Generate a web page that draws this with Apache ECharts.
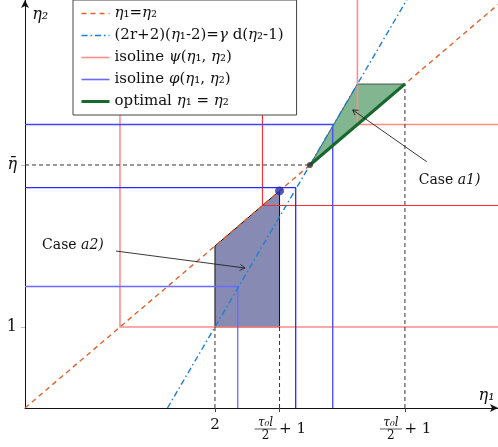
<!DOCTYPE html>
<html><head><meta charset="utf-8">
<script src="https://cdn.jsdelivr.net/npm/echarts@6/dist/echarts.min.js"></script>
<style>html,body{margin:0;padding:0;background:#fff}#c{width:498px;height:447px}</style>
</head><body><div id="c"></div>
<script>
// ---- data (in η units) ----
const X_MAX = 4.98, Y_MAX = 5.037;
const diagLine = [[0, 0], [4.98, 4.98]];
const constraintLine = [[1.5, 0], [4.02, 5.04]];
const psiCorners = [1, 2.5, 3.5];
const phiCorners = [[2.24, 1.5], [2.85, 2.72], [3.24, 3.5]];
const caseA2 = [[2, 1], [2.68, 1], [2.68, 2.68], [2, 2]];
const caseA1 = [[3, 3], [3.5, 4], [4, 4]];
const optimal = [[3, 3], [4, 4]];
const dotA2 = [[2.68, 2.68]];
const dotBar = [[3, 3]];
const dashedGuides = [[[0, 3], [3, 3]], [[2, 0], [2, 1]], [[2.68, 0], [2.68, 1]], [[4, 0], [4, 4]]];
const xTicks = [2, 2.68, 4];
const xTickKinds = ['2', 'frac', 'frac'];
const yTicks = [1, 3];
const yTickLabels = ['1', '{i|η̄}'];
const caseLabels = ['a1)', 'a2)'];
const caseLabelAt = [[4.47, 2.815], [0.505, 2.012]];
const caseArrows = [[[4.23, 3.04], [3.45, 3.68]], [[0.958, 1.938], [2.316, 1.728]]];
const axisNames = ['η₁', 'η₂'];
const axisNameAt = [[4.86, 0.15], [0.16, 4.85]];
const names = ['η₁=η₂', '(2r+2)(η₁-2)=γ d(η₂-1)', 'isoline ψ(η₁, η₂)', 'isoline φ(η₁, η₂)', 'optimal η₁ = η₂'];

// ---- styles ----
const FONT = 'DejaVu Serif';
const psiColors = ['#ff8c8c', '#ff2e2e', '#ff8c8c'];
const psiWidths = [1.6, 1.1, 1.6];
const phiColors = ['#6a6aff', '#2a2aff', '#4444ff'];
const legendWidths = [1.4, 1.4, 1.6, 1.6, 3];

const chart = echarts.init(document.getElementById('c'));
const series = [];

series.push({
  type: 'custom', z: 1, silent: true, clip: false, data: [[0, 0]],
  renderItem: (p, api) => ({
    type: 'group', children: [
      { type: 'polygon', shape: { points: caseA2.map(q => api.coord(q)) }, style: { fill: '#878bb3', stroke: '#111', lineWidth: 1 } },
      { type: 'polygon', shape: { points: caseA1.map(q => api.coord(q)) }, style: { fill: '#82b691', stroke: '#333', lineWidth: 0.8 } }
    ]
  })
});

psiCorners.forEach((c, i) => series.push({
  type: 'line', name: names[2], data: [[c, Y_MAX], [c, c], [X_MAX, c]], symbol: 'none', z: 2,
  itemStyle: { color: psiColors[i] }, lineStyle: { color: psiColors[i], width: psiWidths[i] }, silent: true
}));
phiCorners.forEach((c, i) => series.push({
  type: 'line', name: names[3], data: [[0, c[1]], [c[0], c[1]], [c[0], 0]], symbol: 'none', z: 2,
  itemStyle: { color: phiColors[i] }, lineStyle: { color: phiColors[i], width: 1.3 }, silent: true
}));
dashedGuides.forEach(g => series.push({
  type: 'line', data: g, symbol: 'none', z: 2, silent: true,
  lineStyle: { color: '#333', width: 1, type: [4, 3] }
}));
series.push({
  type: 'line', name: names[0], data: diagLine, symbol: 'none', z: 3, silent: true,
  itemStyle: { color: '#e3622a' }, lineStyle: { color: '#e3622a', width: 1.4, type: [5, 4] }
});
series.push({
  type: 'line', name: names[1], data: constraintLine, symbol: 'none', z: 3, silent: true,
  itemStyle: { color: '#1f7fcf' }, lineStyle: { color: '#1f7fcf', width: 1.4, type: [6, 3, 1.5, 3] }
});
series.push({
  type: 'line', name: names[4], data: optimal, symbol: 'none', z: 4, silent: true,
  itemStyle: { color: '#17682b' }, lineStyle: { color: '#17682b', width: 3 }
});
series.push({ type: 'scatter', data: dotA2, symbolSize: 9, z: 5, itemStyle: { color: '#2b2ba8' }, silent: true });
series.push({ type: 'scatter', data: dotBar, symbolSize: 6, z: 5, itemStyle: { color: '#333' }, silent: true });

series.push({
  type: 'custom', z: 6, silent: true, clip: false, data: [[0, 0]],
  renderItem: (p, api) => {
    const ch = [];
    caseLabels.forEach((t, i) => {
      const pt = api.coord(caseLabelAt[i]);
      ch.push({ type: 'text', x: pt[0], y: pt[1], style: {
        text: '{r|Case }{i|' + t + '}', align: 'center', verticalAlign: 'middle',
        rich: { r: { fontFamily: FONT, fontSize: 14, fill: '#111' }, i: { fontFamily: FONT, fontSize: 14, fontStyle: 'italic', fill: '#111' } }
      } });
      const a = api.coord(caseArrows[i][0]), b = api.coord(caseArrows[i][1]);
      const dx = b[0] - a[0], dy = b[1] - a[1], L = Math.hypot(dx, dy);
      const ux = dx / L, uy = dy / L;
      ch.push({ type: 'line', shape: { x1: a[0], y1: a[1], x2: b[0], y2: b[1] }, style: { stroke: '#222', lineWidth: 0.9 } });
      ch.push({ type: 'polyline', shape: { points: [
        [b[0] - 5 * ux - 3 * uy, b[1] - 5 * uy + 3 * ux], [b[0], b[1]], [b[0] - 5 * ux + 3 * uy, b[1] - 5 * uy - 3 * ux]] },
        style: { stroke: '#222', lineWidth: 0.9, fill: null } });
    });
    axisNames.forEach((t, i) => {
      const pt = api.coord(axisNameAt[i]);
      ch.push({ type: 'text', x: pt[0], y: pt[1], style: { text: t, align: 'center', verticalAlign: 'middle',
        fontFamily: FONT, fontSize: 16, fontStyle: 'italic', fill: '#111' } });
    });
    xTicks.forEach((v, i) => {
      const pt = api.coord([v, 0]);
      if (xTickKinds[i] === '2') {
        ch.push({ type: 'text', x: pt[0], y: pt[1] + 17, style: { text: '2', align: 'center', verticalAlign: 'middle',
          fontFamily: FONT, fontSize: 15, fill: '#111' } });
      } else {
        const cx = pt[0] - 14, by = pt[1] + 21;
        ch.push({ type: 'text', x: cx, y: by - 6, style: { text: 'τ₀l', align: 'center', verticalAlign: 'middle',
          fontFamily: FONT, fontSize: 12, fontStyle: 'italic', fill: '#111' } });
        ch.push({ type: 'line', shape: { x1: cx - 11, y1: by, x2: cx + 11, y2: by }, style: { stroke: '#111', lineWidth: 0.7 } });
        ch.push({ type: 'text', x: cx, y: by + 7, style: { text: '2', align: 'center', verticalAlign: 'middle',
          fontFamily: FONT, fontSize: 12, fill: '#111' } });
        ch.push({ type: 'text', x: pt[0] + 13, y: by, style: { text: '+ 1', align: 'center', verticalAlign: 'middle',
          fontFamily: FONT, fontSize: 15, fill: '#111' } });
      }
    });
    return { type: 'group', children: ch };
  }
});

const italicize = s => s.replace(/([ηγψφ])/g, '{i|$1}');

chart.setOption({
  animation: false,
  backgroundColor: '#fff',
  grid: { left: 25, right: 0, top: 0, bottom: 39, outerBoundsMode: 'none' },
  xAxis: {
    type: 'value', min: 0, max: X_MAX, splitLine: { show: false },
    axisLine: { onZero: false, lineStyle: { color: '#111', width: 1 }, symbol: ['none', 'arrow'], symbolSize: [6, 8] },
    axisTick: { customValues: xTicks, length: 4, lineStyle: { color: '#444' } },
    axisLabel: { show: false }
  },
  yAxis: {
    type: 'value', min: 0, max: Y_MAX, splitLine: { show: false },
    axisLine: { show: true, onZero: false, lineStyle: { color: '#111', width: 1 }, symbol: ['none', 'arrow'], symbolSize: [6, 8] },
    axisTick: { customValues: yTicks, length: 4, lineStyle: { color: '#bbb' } },
    axisLabel: { customValues: yTicks, formatter: v => yTickLabels[yTicks.indexOf(v)], fontFamily: FONT, fontSize: 16, color: '#111', margin: 8,
      rich: { i: { fontFamily: FONT, fontSize: 16, fontStyle: 'italic', color: '#111' } } }
  },
  legend: {
    data: names.map((n, i) => ({ name: n, lineStyle: { width: legendWidths[i] } })),
    orient: 'vertical', left: 73, top: 0, selectedMode: false,
    backgroundColor: '#fff', borderColor: '#444', borderWidth: 1, padding: [6, 13, 6, 7],
    itemWidth: 28, itemHeight: 14, itemGap: 7,
    itemStyle: { opacity: 0 },
    formatter: n => italicize(n),
    textStyle: { fontFamily: FONT, fontSize: 15, color: '#111',
      rich: { i: { fontFamily: FONT, fontSize: 15, fontStyle: 'italic', color: '#111' } } }
  },
  series
});
</script></body></html>
